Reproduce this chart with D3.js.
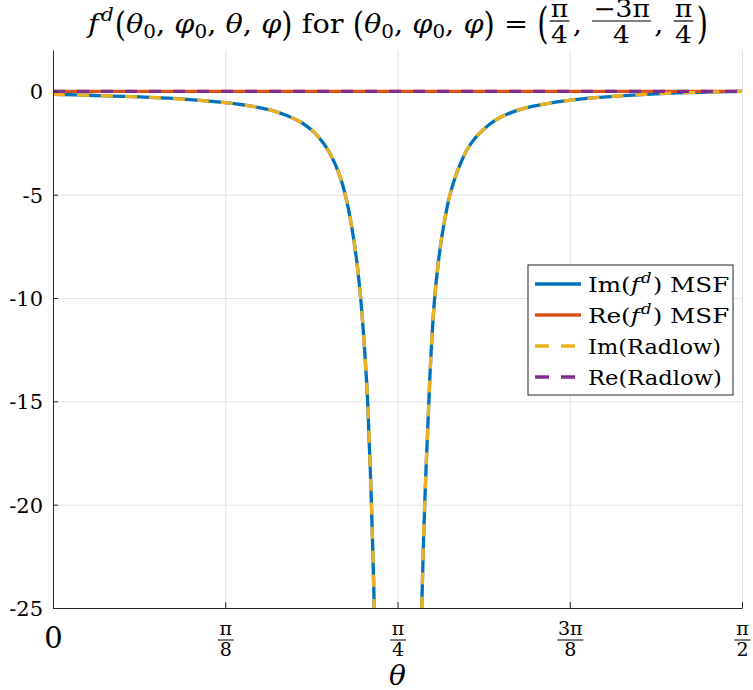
<!DOCTYPE html>
<html><head><meta charset="utf-8">
<script src="https://cdn.jsdelivr.net/npm/d3@7"></script>
<style>
body{margin:0;background:#fff;}
svg{display:block;}
svg text{font-family:"DejaVu Serif",serif;fill:#000;}
</style></head><body>
<svg id="c" width="753" height="690"></svg>
<script>
// ---- data ----
const thetaLeft = [0, 0.0844, 0.1983, 0.3123, 0.3921, 0.4644, 0.4947, 0.5328, 0.5631, 0.5784, 0.5973, 0.6162, 0.6269, 0.6390, 0.6497, 0.6582, 0.6657, 0.6732, 0.6810, 0.6924, 0.7022, 0.7113, 0.7175, 0.7257, 0.7325, 0.7364];
const imLeft    = [-0.14, -0.19, -0.27, -0.40, -0.55, -0.76, -0.90, -1.17, -1.47, -1.68, -2.02, -2.50, -2.84, -3.33, -3.85, -4.38, -4.95, -5.65, -6.55, -8.2, -10.2, -12.8, -15.1, -19.8, -25.0, -28.5];
const thetaRight = [0.8372, 0.8406, 0.8474, 0.8565, 0.8611, 0.8693, 0.8789, 0.8898, 0.9051, 0.9188, 0.9279, 0.9432, 0.9621, 0.9810, 0.9963, 1.0191, 1.0533, 1.0950, 1.1711, 1.2470, 1.3230, 1.3991, 1.4750, 1.5708];
const imRight    = [-28.5, -25.0, -20.0, -15.2, -13.0, -10.2, -8.2, -6.6, -5.0, -4.05, -3.55, -2.85, -2.27, -1.86, -1.58, -1.27, -0.96, -0.72, -0.45, -0.29, -0.18, -0.10, -0.045, 0];
const reTheta  = [0, 1.5708];
const reValues = [0, 0];
const yTicks = [0, -5, -10, -15, -20, -25];
const xTicks = [0, Math.PI / 8, Math.PI / 4, 3 * Math.PI / 8, Math.PI / 2];
const xTickNum = ["0", "π", "π", "3π", "π"];
const xTickDen = [null, "8", "4", "8", "2"];
const legendPrefix = ["Im", "Re", "Im(Radlow)", "Re(Radlow)"];

const colors = {blue: "#0072BD", orange: "#D95319", yellow: "#EDB120", purple: "#7E2F8E"};

// ---- layout ----
const svg = d3.select("#c");
const L = 53, R = 742, T = 50, B = 608;
const x = d3.scaleLinear().domain([0, Math.PI / 2]).range([L, R]);
const y = d3.scaleLinear().domain([-25, 2]).range([B, T]);

// grid
svg.append("g").attr("transform", `translate(0,${B})`)
  .call(d3.axisBottom(x).tickValues(xTicks).tickSize(-(B - T)).tickFormat(""))
  .call(g => { g.select(".domain").remove(); g.selectAll("line").attr("stroke", "#e3e3e3").attr("stroke-width", 1); });
svg.append("g").attr("transform", `translate(${L},0)`)
  .call(d3.axisLeft(y).tickValues(yTicks).tickSize(-(R - L)).tickFormat(""))
  .call(g => { g.select(".domain").remove(); g.selectAll("line").attr("stroke", "#e3e3e3").attr("stroke-width", 1); });

// clip
svg.append("clipPath").attr("id", "clip").append("rect").attr("x", L).attr("y", T).attr("width", R - L).attr("height", B - T);
const plot = svg.append("g").attr("clip-path", "url(#clip)");

const line = d3.line().x(d => x(d[0])).y(d => y(d[1])).curve(d3.curveCatmullRom.alpha(0.5));
const leftPts = thetaLeft.map((t, i) => [t, imLeft[i]]);
const rightPts = thetaRight.map((t, i) => [t, imRight[i]]);
const rePts = reTheta.map((t, i) => [t, reValues[i]]);

const lw = 3.3;
const dash = "12,12";
[leftPts, rightPts].forEach(p => plot.append("path").attr("d", line(p)).attr("fill", "none").attr("stroke", colors.blue).attr("stroke-width", lw));
plot.append("path").attr("d", line(rePts)).attr("fill", "none").attr("stroke", colors.orange).attr("stroke-width", lw);
[leftPts, rightPts].forEach(p => plot.append("path").attr("d", line(p)).attr("fill", "none").attr("stroke", colors.yellow).attr("stroke-width", lw).attr("stroke-dasharray", dash));
plot.append("path").attr("d", line(rePts)).attr("fill", "none").attr("stroke", colors.purple).attr("stroke-width", lw).attr("stroke-dasharray", dash);

// axes
const axCol = "#262626";
const xAxis = svg.append("g").attr("transform", `translate(0,${B})`)
  .call(d3.axisBottom(x).tickValues(xTicks).tickSizeInner(-6).tickSizeOuter(0).tickFormat(""));
xAxis.attr("font-family", null);
xAxis.select(".domain").attr("stroke", axCol);
xAxis.selectAll(".tick line").attr("stroke", axCol);
xAxis.selectAll(".tick").each(function (d, i) {
  const g = d3.select(this);
  if (xTickDen[i] === null) {
    g.append("text").attr("y", 40).attr("text-anchor", "middle").attr("font-size", 29).text(xTickNum[i]);
  } else {
    g.append("text").attr("y", 27).attr("text-anchor", "middle").attr("font-size", 19).text(xTickNum[i]);
    const w = xTickNum[i].length > 1 ? 13 : 8;
    g.append("line").attr("x1", -w).attr("x2", w).attr("y1", 32).attr("y2", 32).attr("stroke", "#000").attr("stroke-width", 1);
    g.append("text").attr("y", 48).attr("text-anchor", "middle").attr("font-size", 19).text(xTickDen[i]);
  }
});

const yAxis = svg.append("g").attr("transform", `translate(${L},0)`)
  .call(d3.axisLeft(y).tickValues(yTicks).tickSizeInner(-5).tickSizeOuter(0).tickFormat(d => d === 0 ? "0" : "-" + Math.abs(d)));
yAxis.attr("font-family", null);
yAxis.select(".domain").attr("stroke", axCol);
yAxis.selectAll(".tick line").attr("stroke", axCol);
yAxis.selectAll(".tick text").attr("x", -10).attr("dy", "0.36em").attr("font-size", 21).attr("fill", "#000");

// x label
svg.append("text").attr("x", (L + R) / 2).attr("y", 685).attr("text-anchor", "middle")
  .attr("font-size", 28).attr("font-style", "italic").text("θ");

// ---- title ----
const titleBase = 33, tfs = 26;
const tg = svg.append("g");
const tin = tg.append("g");
let cx = 0;
function run(str, opts = {}) {
  const fs = opts.fs || tfs;
  const t = tin.append("text").attr("x", cx).attr("y", titleBase + (opts.dy || 0)).attr("font-size", fs)
    .attr("font-style", opts.it ? "italic" : "normal").style("white-space", "pre").text(str);
  if (opts.sy) t.attr("transform", `translate(0,${opts.cy}) scale(1,${opts.sy}) translate(0,${-opts.cy})`);
  cx += t.node().getComputedTextLength() + (opts.gap || 0);
}
function frac(num, den) {
  const fs = 24;
  const a = tin.append("text").attr("font-size", fs).attr("text-anchor", "middle").text(num);
  const b = tin.append("text").attr("font-size", fs).attr("text-anchor", "middle").text(den);
  const w = Math.max(a.node().getComputedTextLength(), b.node().getComputedTextLength()) + 4;
  const mid = cx + w / 2;
  a.attr("x", mid).attr("y", 17);
  b.attr("x", mid).attr("y", 43);
  tin.append("line").attr("x1", cx + 1).attr("x2", cx + w - 1).attr("y1", 21).attr("y2", 21).attr("stroke", "#000").attr("stroke-width", 1.2);
  cx += w + 2;
}
const par = {sy: 1.3, cy: 24};
const big = {sy: 1.65, cy: 25};
run("f", {it: true, gap: 2});
run("d", {it: true, fs: 18, dy: -12, gap: 1});
run("(", par);
run("θ", {it: true}); run("0", {fs: 18, dy: 5}); run(", ");
run("φ", {it: true}); run("0", {fs: 18, dy: 5}); run(", ");
run("θ", {it: true}); run(", ");
run("φ", {it: true}); run(")", par);
run(" for ");
run("(", par);
run("θ", {it: true}); run("0", {fs: 18, dy: 5}); run(", ");
run("φ", {it: true}); run("0", {fs: 18, dy: 5}); run(", ");
run("φ", {it: true}); run(")", par);
run(" = ");
run("(", big);
frac("π", "4"); run(", ");
frac("−3π", "4"); run(", ");
frac("π", "4");
run(")", big);
const tw = cx;
const sx = 620 / tw;
tin.attr("transform", `translate(88,0) scale(${sx},1)`);

// ---- legend ----
const lgX = 528, lgY = 265, lgW = 205, lgH = 130;
const lg = svg.append("g");
lg.append("rect").attr("x", lgX).attr("y", lgY).attr("width", lgW).attr("height", lgH)
  .attr("fill", "#fff").attr("stroke", axCol).attr("stroke-width", 1);
const entries = [
  {c: colors.blue, dash: null, lab: legendPrefix[0], fd: true},
  {c: colors.orange, dash: null, lab: legendPrefix[1], fd: true},
  {c: colors.yellow, dash: dash, lab: legendPrefix[2]},
  {c: colors.purple, dash: dash, lab: legendPrefix[3]}
];
const lfs = 21;
entries.forEach((e, i) => {
  const ry = lgY + 19 + i * 31;
  const ln = lg.append("line").attr("x1", lgX + 7).attr("x2", lgX + 53).attr("y1", ry).attr("y2", ry)
    .attr("stroke", e.c).attr("stroke-width", lw);
  if (e.dash) ln.attr("stroke-dasharray", "14,12").attr("x1", lgX + 7);
  const t = lg.append("text").attr("x", lgX + 60).attr("y", ry + 8).attr("font-size", lfs).style("white-space", "pre");
  if (e.fd) {
    t.append("tspan").text(e.lab + "(");
    t.append("tspan").attr("font-style", "italic").text("f");
    t.append("tspan").attr("font-style", "italic").attr("font-size", 14).attr("dy", -9).attr("dx", 1).text("d");
    t.append("tspan").attr("dy", 9).attr("dx", 1).text(") MSF");
  } else {
    t.text(e.lab);
  }
  const w = t.node().getComputedTextLength();
  const target = e.fd ? 139 : (i === 2 ? 133 : 134);
  t.attr("transform", `translate(${lgX + 60},0) scale(${target / w},1) translate(${-(lgX + 60)},0)`);
});
</script>
</body></html>
